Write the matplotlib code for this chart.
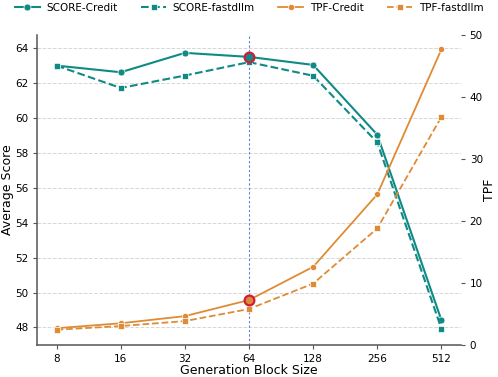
import numpy as np
import matplotlib
matplotlib.use("Agg")
import matplotlib.pyplot as plt

# data
block_sizes = ["8", "16", "32", "64", "128", "256", "512"]
score_credit = [63.0, 62.62, 63.73, 63.5, 63.04, 59.04, 48.42]
score_fastdllm = [63.0, 61.72, 62.43, 63.2, 62.42, 58.6, 47.93]
tpf_credit = [2.7, 3.5, 4.65, 7.25, 12.6, 24.3, 47.7]
tpf_fastdllm = [2.45, 3.05, 3.85, 5.8, 9.9, 18.8, 36.8]
highlight_idx = 3

teal = "#0f8a84"
orange = "#df8b35"
red = "#d01c3c"

plt.rcParams['font.family'] = ['DejaVu Sans']

fig, ax = plt.subplots(figsize=(4.98, 3.77), dpi=100)
ax2 = ax.twinx()
x = np.arange(len(block_sizes))

l1, = ax.plot(x, score_credit, '-o', color=teal, lw=1.5, ms=5, mec='white', mew=0.5, label='SCORE-Credit')
l2, = ax.plot(x, score_fastdllm, '--s', color=teal, lw=1.5, ms=5, mec='white', mew=0.5, label='SCORE-fastdllm')
l3, = ax2.plot(x, tpf_credit, '-o', color=orange, lw=1.3, ms=4.5, mec='white', mew=0.5, label='TPF-Credit')
l4, = ax2.plot(x, tpf_fastdllm, '--s', color=orange, lw=1.3, ms=4.5, mec='white', mew=0.5, label='TPF-fastdllm')

# highlight chosen block size
ax.axvline(highlight_idx, color='#5b7fd0', ls=(0, (2, 2)), lw=0.8, zorder=1)
ax.plot(x[highlight_idx], score_credit[highlight_idx], 'o', ms=7, mfc=teal, mec=red, mew=1.6, zorder=5)
ax2.plot(x[highlight_idx], tpf_credit[highlight_idx], 'o', ms=7, mfc=orange, mec=red, mew=1.6, zorder=5)

ax.set_xlim(-0.3, 6.3)
ax.set_ylim(47, 64.75)
ax2.set_ylim(0, 50)
ax.set_xticks(x)
ax.set_xticklabels(block_sizes)
ax.set_yticks([48, 50, 52, 54, 56, 58, 60, 62, 64])
ax2.set_yticks([0, 10, 20, 30, 40, 50])

ax.grid(axis='y', ls='--', color='#d6d6d6', lw=0.7)
ax.set_axisbelow(True)

for a in (ax, ax2):
    a.spines['top'].set_visible(False)
    a.spines['right'].set_visible(False)
ax2.spines['left'].set_visible(False)
ax2.spines['bottom'].set_visible(False)
ax.spines['left'].set_color('#555555')
ax.spines['bottom'].set_color('#555555')
ax.spines['left'].set_linewidth(1.1)
ax.spines['bottom'].set_linewidth(1.1)
ax.tick_params(labelsize=7.5, color='#555555', length=3)
ax2.tick_params(labelsize=7.5, color='#555555', length=3)

ax.set_xlabel('Generation Block Size', fontsize=9, labelpad=0)
ax.set_ylabel('Average Score', fontsize=9, labelpad=1)
ax2.set_ylabel('TPF', fontsize=9, labelpad=0)

fig.legend(handles=[l1, l2, l3, l4], loc='upper center', ncol=4, frameon=False,
           fontsize=7.5, bbox_to_anchor=(0.5, 1.018), columnspacing=2.3, handlelength=2.4,
           handletextpad=0.6)

fig.subplots_adjust(left=0.075, right=0.925, top=0.907, bottom=0.085)
fig.savefig('out.png', dpi=100)
